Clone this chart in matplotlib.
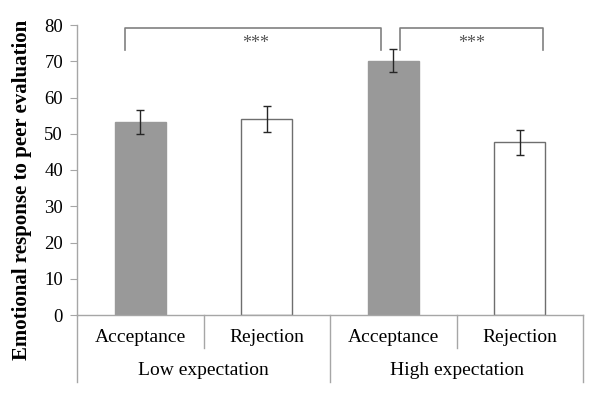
import matplotlib
matplotlib.use("Agg")
import matplotlib.pyplot as plt
import matplotlib.transforms as mtransforms

conditions = ["Acceptance", "Rejection", "Acceptance", "Rejection"]
groups = ["Low expectation", "High expectation"]
values = [53.3, 54.1, 70.2, 47.6]
errors = [3.3, 3.5, 3.3, 3.5]
bar_colors = ["#999999", "#ffffff", "#999999", "#ffffff"]
edge_colors = ["#999999", "#6e6e6e", "#999999", "#6e6e6e"]
yticks = [0, 10, 20, 30, 40, 50, 60, 70, 80]
sig_label = "***"

plt.rcParams['font.family'] = ['Liberation Serif', 'DejaVu Serif']

fig = plt.figure(figsize=(6.0, 4.03), dpi=100)
ax = fig.add_axes([77/600, 88/403, 506/600, 290/403])

x = list(range(len(values)))
ax.bar(x, values, width=0.4, color=bar_colors, edgecolor=edge_colors, linewidth=1.0, zorder=2)
ax.errorbar(x, values, yerr=errors, fmt='none', ecolor='#262626', elinewidth=1.0,
            capsize=3, capthick=1.0, zorder=3)

ax.set_xlim(-0.5, 3.5)
ax.set_ylim(0, 80)
ax.set_yticks(yticks)
ax.set_yticklabels([str(t) for t in yticks], fontsize=13.5)
ax.tick_params(axis='y', length=5, width=0.8, color='#a6a6a6', pad=5)
ax.set_xticks([])
for s in ['top', 'right']:
    ax.spines[s].set_visible(False)
for s in ['left', 'bottom']:
    ax.spines[s].set_color('#a6a6a6')
    ax.spines[s].set_linewidth(1.0)

fig.text(22/600, 213/403, "Emotional response to peer evaluation", rotation=90,
         fontsize=15, fontweight='bold', ha='center', va='center')

trans = mtransforms.blended_transform_factory(ax.transData, ax.transAxes)
# separators
for xs in [-0.5, 1.5, 3.5]:
    ax.plot([xs, xs], [0, -0.231], transform=trans, color='#a6a6a6', lw=1.0, clip_on=False)
for xs in [0.5, 2.5]:
    ax.plot([xs, xs], [0, -0.114], transform=trans, color='#a6a6a6', lw=1.0, clip_on=False)
for i, c in enumerate(conditions):
    ax.text(i, -0.079, c, transform=trans, ha='center', va='center', fontsize=14)
for j, g in enumerate(groups):
    ax.text(2 * j + 0.5, -0.193, g, transform=trans, ha='center', va='center', fontsize=14)

# significance brackets
brackets = [(-0.12, 1.90), (2.05, 3.18)]
star_x = [0.91, 2.62]
top, bottom = 79.2, 73.1
for (x0, x1), sx in zip(brackets, star_x):
    ax.plot([x0, x0, x1, x1], [bottom, top, top, bottom], color='#808080', lw=1.2,
            solid_joinstyle='round', zorder=4)
    ax.text(sx, 75.0, sig_label, ha='center', va='center', fontsize=13, color='#555555')

fig.savefig("out.png", dpi=100)
